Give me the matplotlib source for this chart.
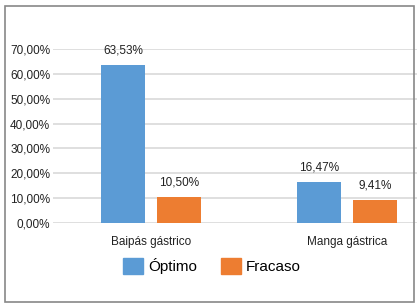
import matplotlib
matplotlib.use("Agg")
import matplotlib.pyplot as plt
from matplotlib.patches import Rectangle, Patch

categories = ["Baipás gástrico", "Manga gástrica"]
series_names = ["Óptimo", "Fracaso"]
optimo = [63.53, 16.47]
fracaso = [10.50, 9.41]
yticks = [0, 10, 20, 30, 40, 50, 60, 70]

plt.rcParams['font.family'] = ['Liberation Sans', 'DejaVu Sans']

W, H = 417, 306
fig = plt.figure(figsize=(W / 100, H / 100), dpi=100)
ax = fig.add_axes([53 / W, 1 - 223 / H, (W - 53) / W, (223 - 49) / H])

blue = "#5B9BD5"
orange = "#ED7D31"
bw = 44 / 196
off = 28 / 196
x = list(range(len(categories)))
b1 = ax.bar([i - off for i in x], optimo, width=bw, color=blue, zorder=3)
b2 = ax.bar([i + off for i in x], fracaso, width=bw, color=orange, zorder=3)

for bars, vals in ((b1, optimo), (b2, fracaso)):
    for r, v in zip(bars, vals):
        ax.annotate(f"{v:.2f}%".replace(".", ","),
                    (r.get_x() + r.get_width() / 2, r.get_height()),
                    xytext=(0, 6), textcoords="offset points",
                    ha="center", va="bottom", fontsize=8.5, color="#222222",
                    annotation_clip=False)

ax.set_xlim(-0.5, (W - 151) / 196)
ax.set_ylim(0, 70)
ax.set_yticks(yticks)
ax.set_yticklabels([f"{t:.2f}%".replace(".", ",") for t in yticks], fontsize=8.5, color="#222222")
ax.set_xticks(x)
ax.set_xticklabels(categories, fontsize=8.5, color="#222222")
ax.tick_params(axis="y", length=0, pad=2)
ax.tick_params(axis="x", length=0, pad=9)
ax.yaxis.grid(True, color="#D9D9D9", linewidth=1.2, zorder=0)
ax.set_axisbelow(True)
for s in ax.spines.values():
    s.set_visible(False)

handles = [Patch(color=blue), Patch(color=orange)]
fig.legend(handles, series_names, loc="center", bbox_to_anchor=(212 / W, 1 - 266 / H),
           ncol=2, frameon=False, fontsize=11, handlelength=1.3, handleheight=1.2,
           handletextpad=0.3, columnspacing=1.6)

fig.add_artist(Rectangle((4.5 / W, 1 - 301.5 / H), 409 / W, 296 / H, transform=fig.transFigure,
                         fill=False, edgecolor="#888888", linewidth=1.2, zorder=10))

fig.savefig("out.png", dpi=100)
